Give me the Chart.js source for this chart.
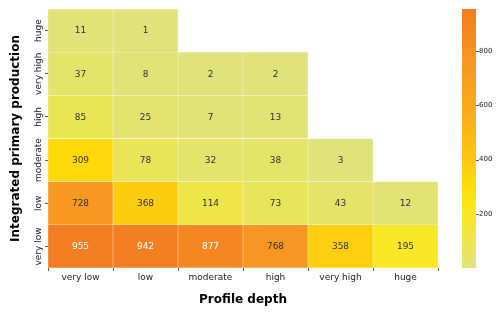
<!DOCTYPE html>
<html>
<head>
<meta charset="utf-8">
<script src="https://cdn.jsdelivr.net/npm/chart.js@4.4.1/dist/chart.umd.min.js"></script>
<style>
  html, body { margin: 0; padding: 0; background: #fff; }
  #wrap { width: 500px; height: 317px; }
</style>
</head>
<body>
<div id="wrap"><canvas id="heat"></canvas></div>
<script>
// categorias (eixo x e eixo y, de baixo para cima)
const depthLabels = ['very low', 'low', 'moderate', 'high', 'very high', 'huge'];
const ippLabels = ['very low', 'low', 'moderate', 'high', 'very high', 'huge'];

// contagens por linha (produção primária), colunas = profundidade
const rowVeryLow  = [955, 942, 877, 768, 358, 195];
const rowLow      = [728, 368, 114, 73, 43, 12];
const rowModerate = [309, 78, 32, 38, 3, null];
const rowHigh     = [85, 25, 7, 13, null, null];
const rowVeryHigh = [37, 8, 2, 2, null, null];
const rowHuge     = [11, 1, null, null, null, null];

const colorbarTicks = [200, 400, 600, 800];

const linhas = [rowVeryLow, rowLow, rowModerate, rowHigh, rowVeryHigh, rowHuge];
const vmin = 1, vmax = 955;

// mapa de cores aproximado (amarelo esverdeado -> laranja)
const stops = [
    [0.00, [224, 227, 122]],
    [0.22, [250, 232, 30]],
    [0.30, [254, 222, 10]],
    [0.42, [253, 198, 18]],
    [0.60, [250, 172, 28]],
    [0.80, [247, 150, 34]],
    [1.00, [243, 125, 34]]
];

function cor(v) {
    let t = (v - vmin) / (vmax - vmin);
    t = Math.max(0, Math.min(1, t));
    for (let k = 1; k < stops.length; k++) {
        if (t <= stops[k][0]) {
            const a = stops[k - 1], b = stops[k];
            const f = (t - a[0]) / (b[0] - a[0]);
            const c = a[1].map((x, i) => Math.round(x + (b[1][i] - x) * f));
            return `rgb(${c[0]},${c[1]},${c[2]})`;
        }
    }
    return 'rgb(243,125,34)';
}

const datasets = linhas.map((linha, i) => ({
    label: ippLabels[i],
    data: linha.map(v => v == null ? null : [i, i + 1]),
    valores: linha,
    backgroundColor: linha.map(v => v == null ? 'rgba(0,0,0,0)' : cor(v)),
    borderColor: 'rgba(255,255,255,0.45)',
    borderWidth: 0.5,
    borderSkipped: false,
    barPercentage: 1,
    categoryPercentage: 1
}));

// escreve os números no centro de cada célula
const rotulos = {
    id: 'rotulos',
    afterDatasetsDraw(chart) {
        const ctx = chart.ctx;
        ctx.save();
        ctx.font = '9px "DejaVu Sans"';
        ctx.textAlign = 'center';
        ctx.textBaseline = 'middle';
        chart.data.datasets.forEach((ds, i) => {
            chart.getDatasetMeta(i).data.forEach((el, j) => {
                const v = ds.valores[j];
                if (v == null) return;
                const p = el.getCenterPoint();
                ctx.fillStyle = v > 800 ? '#ffffff' : '#333333';
                ctx.fillText(String(v), p.x, p.y + 0.5);
            });
        });
        ctx.restore();
    }
};

// barra de cores à direita, usando a escala cb
const barraCores = {
    id: 'barraCores',
    afterDraw(chart) {
        const s = chart.scales.cb;
        const ctx = chart.ctx;
        const x0 = 462, x1 = 476;
        const yTop = s.getPixelForValue(vmax), yBot = s.getPixelForValue(vmin);
        const g = ctx.createLinearGradient(0, yBot, 0, yTop);
        stops.forEach(st => {
            g.addColorStop(st[0], `rgb(${st[1][0]},${st[1][1]},${st[1][2]})`);
        });
        ctx.save();
        ctx.fillStyle = g;
        ctx.fillRect(x0, yTop, x1 - x0, yBot - yTop);
        ctx.strokeStyle = '#333';
        ctx.lineWidth = 0.8;
        colorbarTicks.forEach(t => {
            const y = Math.round(s.getPixelForValue(t)) + 0.5;
            ctx.beginPath();
            ctx.moveTo(x1, y);
            ctx.lineTo(x1 + 3, y);
            ctx.stroke();
        });
        ctx.restore();
    }
};

const fonte = 'DejaVu Sans';

new Chart(document.getElementById('heat'), {
    type: 'bar',
    data: { labels: depthLabels, datasets: datasets },
    plugins: [rotulos, barraCores],
    options: {
        responsive: true,
        maintainAspectRatio: false,
        animation: false,
        layout: { padding: { top: 9, left: 0, right: 0, bottom: 0 } },
        plugins: {
            legend: { display: false },
            tooltip: { enabled: false }
        },
        scales: {
            x: {
                stacked: true,
                grid: { drawOnChartArea: false, drawTicks: true, tickLength: 3, color: '#333', tickWidth: 0.8 },
                border: { display: false },
                ticks: { color: '#222', font: { family: fonte, size: 9 }, padding: 1, maxRotation: 0, autoSkip: false },
                title: {
                    display: true, text: 'Profile depth', color: '#000',
                    font: { family: fonte, size: 12, weight: 'bold' },
                    padding: { top: 0, bottom: 10 }
                },
                afterFit(s) { s.height = 49; s.paddingLeft = 0; s.paddingRight = 0; }
            },
            y: {
                type: 'linear',
                min: 0,
                max: 6,
                stacked: false,
                afterBuildTicks(s) { s.ticks = ippLabels.map((l, i) => ({ value: i + 0.5 })); },
                grid: { drawOnChartArea: false, drawTicks: true, tickLength: 3, color: '#333', tickWidth: 0.8 },
                border: { display: false },
                ticks: {
                    color: '#222', font: { family: fonte, size: 9 }, autoSkip: false,
                    minRotation: 90, maxRotation: 90, crossAlign: 'center', padding: -16,
                    callback: (v) => ippLabels[Math.floor(v)]
                },
                title: {
                    display: true, text: 'Integrated primary production', color: '#000',
                    font: { family: fonte, size: 12, weight: 'bold' },
                    padding: { top: 9, bottom: 0 }
                },
                afterFit(s) { s.width = 48; s.paddingTop = 0; s.paddingBottom = 0; }
            },
            cb: {
                type: 'linear',
                position: 'right',
                min: vmin,
                max: vmax,
                afterBuildTicks(s) { s.ticks = colorbarTicks.map(v => ({ value: v })); },
                grid: { display: false, drawTicks: false },
                border: { display: false },
                ticks: { color: '#222', font: { family: fonte, size: 7 }, padding: 41, autoSkip: false },
                afterFit(s) { s.width = 62; s.paddingTop = 0; s.paddingBottom = 0; }
            }
        }
    }
});
</script>
</body>
</html>
